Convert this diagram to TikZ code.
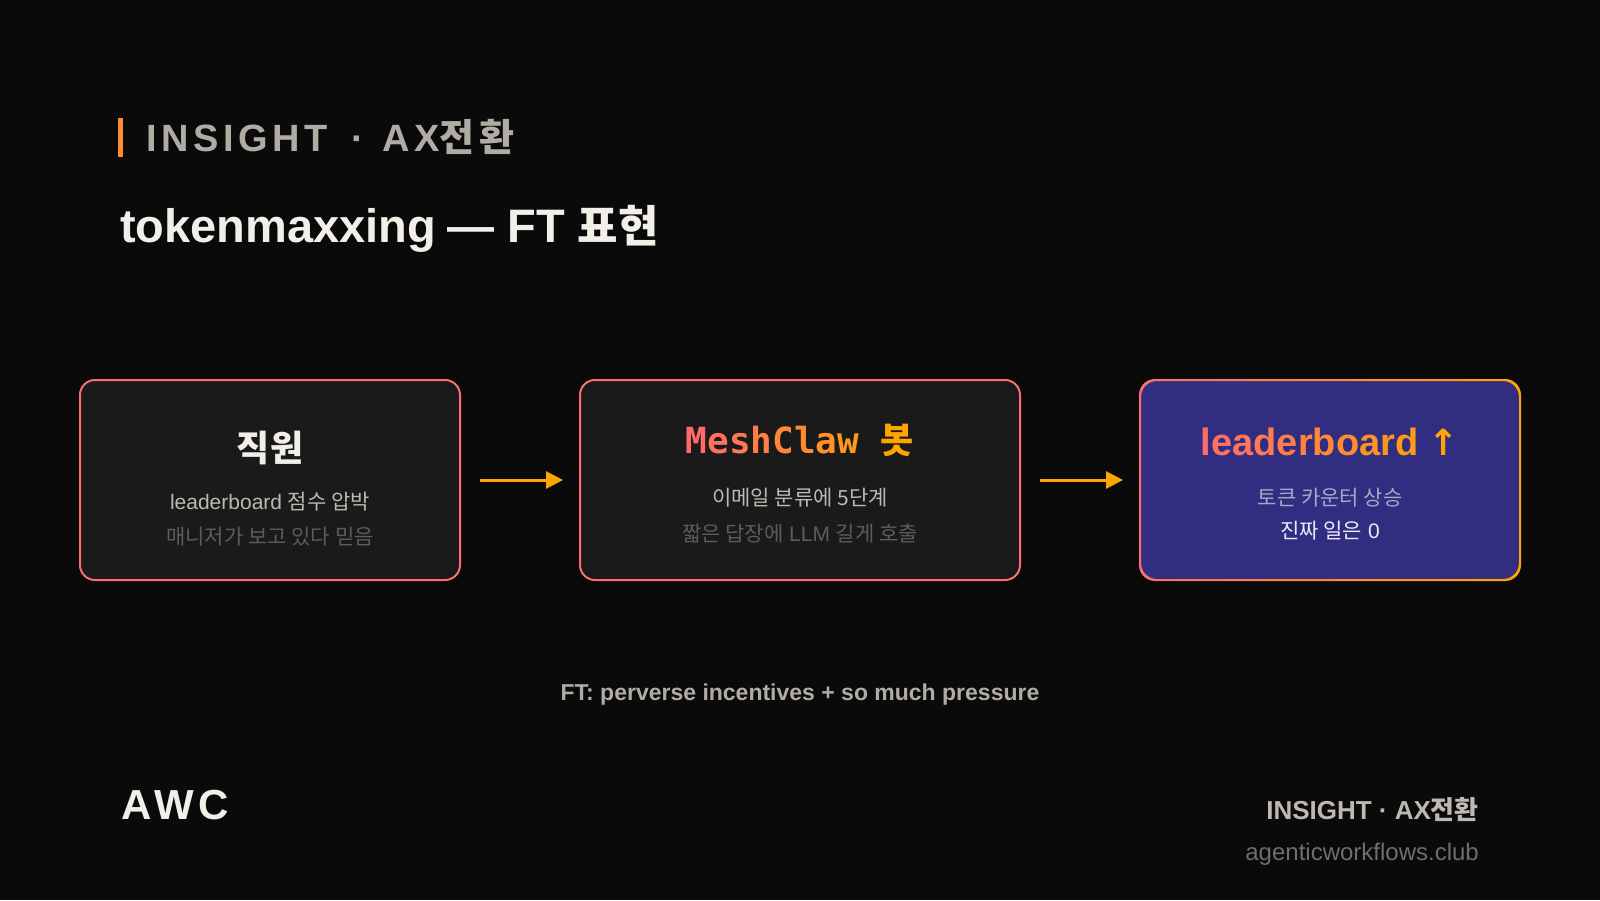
\documentclass[tikz,border=0pt]{standalone}
\usepackage{fontspec}
\setmainfont{Liberation Sans}
\newfontfamily\kr{Noto Sans CJK KR}
\newfontfamily\mono{DejaVu Sans Mono}
\newfontfamily\sym{DejaVu Sans}
\newfontfamily\spaced[LetterSpace=12]{Liberation Sans}
\newfontfamily\spacedkr[LetterSpace=12]{Noto Sans CJK KR}
\usetikzlibrary{arrows.meta}

\definecolor{bg}{HTML}{0A0A0A}
\definecolor{cardbg}{HTML}{1A1A1A}
\definecolor{coral}{HTML}{FF6B6B}
\definecolor{amber}{HTML}{FFA502}
\definecolor{accent}{HTML}{FF8C32}
\definecolor{ink}{HTML}{F2EFE8}
\definecolor{muted}{HTML}{B0ABA3}
\definecolor{soft}{HTML}{BDB8B0}
\definecolor{dim}{HTML}{5F5B57}
\definecolor{indigo}{HTML}{312E81}
\definecolor{lilac}{HTML}{A9A6C6}
\definecolor{pale}{HTML}{ECEAF6}
\definecolor{faint}{HTML}{6E6E6E}

\newcommand\fs[1]{\fontsize{#1}{#1}\selectfont}
\newcommand\grad[2]{\textcolor{amber!#1!coral}{#2}}

\begin{document}
\begin{tikzpicture}[x=1pt, y=-1pt,
    card/.style={rounded corners=15pt, minimum width=380pt, minimum height=200pt,
                 outer sep=0pt, inner sep=0pt},
    cardline/.style={line width=2pt, draw=coral, fill=cardbg},
    flow/.style={draw=amber, line width=3pt, -{Triangle[length=17pt, width=17pt]}},
    head/.style={font=\bfseries\fs{36}, anchor=base},
    sub/.style={font=\fs{21}, anchor=base},
  ]
  % backdrop, also fixes the page size
  \fill[bg] (0,0) rectangle (1600,900);

  % header
  \fill[accent] (118,118) rectangle (123,157);
  \node[anchor=base west, inner sep=0pt, text=muted, font=\spaced\bfseries\fs{38}]
    (kicker) at (146,151) {INSIGHT\hspace{9pt} · \hspace{3pt}AX{\spacedkr 전환}};
  \node[anchor=base west, inner sep=0pt, text=ink, font=\bfseries\fs{47}]
    (title) at (120,242) {tokenmaxxing\hspace{-2pt} — FT {\kr\fs{44}표현}};

  % the three cards
  \node[card, cardline] (staff) at (270,480) {};
  \node[head, text=ink] (staffT) at (270,461) {\kr 직원};
  \node[sub, text=soft] (staffA) at (270,509) {leaderboard {\kr 점수 압박}};
  \node[sub, text=dim] (staffB) at (270,544) {\kr 매니저가 보고 있다 믿음};

  \node[card, cardline, minimum width=440pt] (bot) at (800,480) {};
  \node[head, font=\mono\bfseries\fs{36}] (botT) at (800,453)
    {\grad{0}{M}\grad{11}{e}\grad{22}{s}\grad{33}{h}\grad{44}{C}\grad{55}{l}\grad{66}{a}\grad{77}{w} \grad{100}{\kr 봇}};
  \node[sub, text=soft] (botA) at (800,505) {\kr 이메일 분류에 5단계};
  \node[sub, text=dim] (botB) at (800,541) {{\kr 짧은 답장에} LLM {\kr 길게 호출}};

  \node[card, fill=indigo] (board) at (1330,480) {};
  \shade[left color=coral, right color=amber, even odd rule, rounded corners=16pt]
    ([shift={(-1pt,1pt)}]board.north west) rectangle ([shift={(1pt,-1pt)}]board.south east)
    ([shift={(1pt,-1pt)}]board.north west) rectangle ([shift={(-1pt,1pt)}]board.south east);
  \node[head, font=\bfseries\fs{38}] (boardT) at (1330,455)
    {\grad{0}{l}\grad{8}{e}\grad{17}{a}\grad{25}{d}\grad{33}{e}\grad{42}{r}\grad{50}{b}\grad{58}{o}\grad{67}{a}\grad{75}{r}\grad{83}{d} \grad{100}{\sym\fs{36}↑}};
  \node[sub, text=lilac] (boardA) at (1330,505) {\kr 토큰 카운터 상승};
  \node[sub, text=pale] (boardB) at (1330,538) {{\kr 진짜 일은} 0};

  \draw[flow] ([xshift=20pt]staff.east) -- ([xshift=-17pt]bot.west);
  \draw[flow] ([xshift=20pt]bot.east) -- ([xshift=-17pt]board.west);

  % caption and footer
  \node[anchor=base, text=muted, font=\bfseries\fs{23}] (moral) at (800,700)
    {FT: perverse incentives + so much pressure};
  \node[anchor=base west, inner sep=0pt, text=ink, font=\spaced\bfseries\fs{42}]
    (brand) at (121,819) {AWC};
  \node[anchor=base east, inner sep=0pt, text=soft, font=\bfseries\fs{26}]
    (tag) at (1479,819) {INSIGHT · AX{\kr 전환}};
  \node[anchor=base east, inner sep=0pt, text=faint, font=\fs{24}]
    (site) at (1479,860) {agenticworkflows.club};
\end{tikzpicture}
\end{document}
